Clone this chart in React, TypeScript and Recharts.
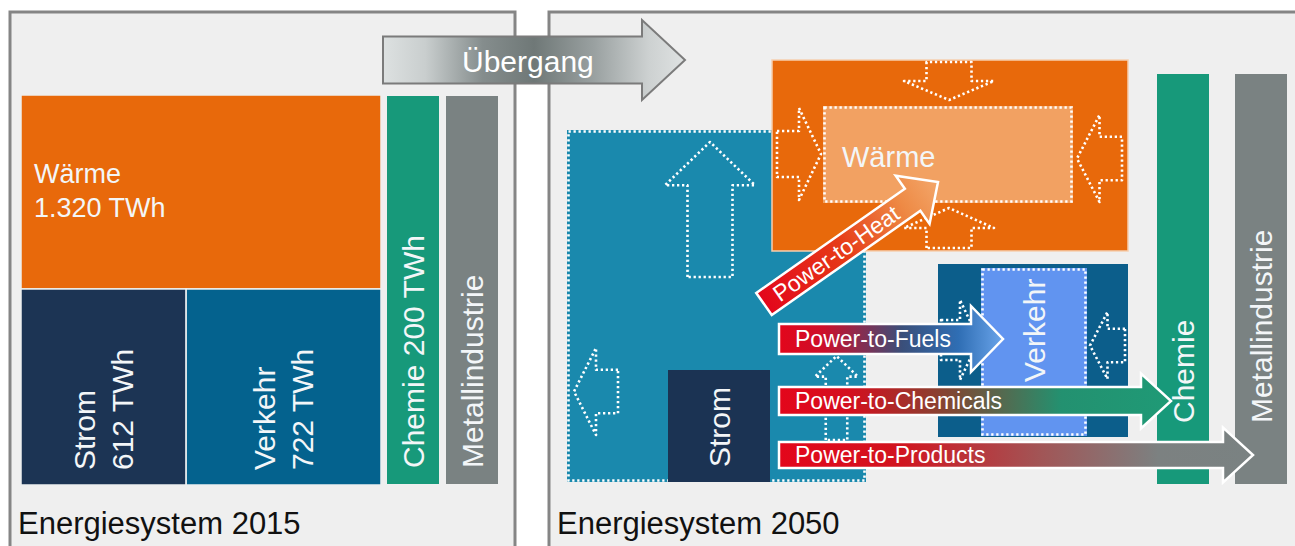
import React from "react";
import { ComposedChart, XAxis, YAxis, ReferenceArea, ReferenceLine } from "recharts";

const WIDTH = 1295;
const HEIGHT = 546;
const FONT = '"Liberation Sans", Arial, Helvetica, sans-serif';

// chart units: one unit = one pixel of the sketch grid (x right, y down)
const panels = [
	{ id: "p2015", title: "Energiesystem 2015", x: [10, 515], y: [12, 560] },
	{ id: "p2050", title: "Energiesystem 2050", x: [549, 1310], y: [12, 560] },
];

// Endenergie 2015 in TWh, laid out as a treemap inside this frame
const demand2015 = [
	{ name: "Wärme", twh: 1320 },
	{ name: "Strom", twh: 612 },
	{ name: "Verkehr", twh: 722 },
];
const treemapFrame2015 = { x: [21, 381], y: [95, 485] };

const columns2015 = [
	{ name: "Chemie", label: ["Chemie 200 TWh"], x: [387, 439], y: [96, 484] },
	{ name: "Metallindustrie", label: ["Metallindustrie"], x: [446, 498], y: [96, 484] },
];

const sectors2050 = [
	{ name: "Stromsystem", label: [] as string[], x: [567, 866], y: [130, 482] },
	{ name: "Strom", label: ["Strom"], x: [668, 770], y: [370, 482] },
	{ name: "Wärmesektor", label: [] as string[], x: [772, 1128], y: [60, 251] },
	{ name: "Wärme", label: ["Wärme"], x: [823, 1073], y: [106, 203] },
	{ name: "Verkehrssektor", label: [] as string[], x: [938, 1128], y: [264, 437] },
	{ name: "Verkehr", label: ["Verkehr"], x: [981, 1087], y: [268, 436] },
	{ name: "Chemie", label: ["Chemie"], x: [1157, 1209], y: [74, 484] },
	{ name: "Metallindustrie", label: ["Metallindustrie"], x: [1235, 1287], y: [74, 484] },
];

// dotted "flow" arrows pointing into the sectors
const inflows2050 = [
	{ into: "Strom", dir: "up", x: [665, 755], y: [142, 277] },
	{ into: "Strom", dir: "left", x: [574, 618], y: [348, 435] },
	{ into: "Strom", dir: "up", x: [815, 858], y: [356, 440] },
	{ into: "Wärme", dir: "right", x: [777, 821], y: [108, 200] },
	{ into: "Wärme", dir: "down", x: [904, 994], y: [62, 100] },
	{ into: "Wärme", dir: "left", x: [1077, 1122], y: [115, 202] },
	{ into: "Wärme", dir: "up", x: [904, 994], y: [208, 248] },
	{ into: "Verkehr", dir: "right", x: [941, 979], y: [300, 380] },
	{ into: "Verkehr", dir: "left", x: [1090, 1125], y: [312, 379] },
];

const powerRoutes = [
	{ label: "Power-to-Heat", from: { x: 764, y: 304 }, to: { x: 938, y: 182 } },
	{ label: "Power-to-Fuels", from: { x: 779, y: 339 }, to: { x: 1003, y: 339 } },
	{ label: "Power-to-Chemicals", from: { x: 779, y: 401 }, to: { x: 1171, y: 401 } },
	{ label: "Power-to-Products", from: { x: 779, y: 455 }, to: { x: 1253, y: 455 } },
];

const transition = { label: "Übergang", from: { x: 383, y: 60 }, to: { x: 685, y: 60 } };

// ---------- styles ----------
const TEXT = "#f3f6f8";

type LabelStyle = {
	rotate?: boolean;
	size: number;
	gap?: number;
	dx?: number;
	dy?: number;
	bottom?: number;
};
type BlockStyle = {
	fill: string;
	stroke?: string;
	strokeWidth?: number;
	dotted?: boolean;
	label?: LabelStyle;
};

const style2015: Record<string, BlockStyle> = {
	Wärme: { fill: "#e8690b", stroke: "#eef0f0", strokeWidth: 1.5, label: { size: 27, gap: 34, dx: 13, dy: 88 } },
	Strom: { fill: "#1c3454", stroke: "#eef0f0", strokeWidth: 1.5, label: { rotate: true, size: 30, gap: 38, bottom: 15 } },
	Verkehr: { fill: "#04628e", stroke: "#eef0f0", strokeWidth: 1.5, label: { rotate: true, size: 30, gap: 38, bottom: 15 } },
	Chemie: { fill: "#17997a", label: { rotate: true, size: 30, bottom: 16 } },
	Metallindustrie: { fill: "#7a8282", label: { rotate: true, size: 30, bottom: 16 } },
};

const style2050: Record<string, BlockStyle> = {
	Stromsystem: { fill: "#1a89ad", dotted: true },
	Strom: { fill: "#1b3353", label: { rotate: true, size: 30, bottom: 15 } },
	Wärmesektor: { fill: "#e8690b", stroke: "#f6cfb0", strokeWidth: 1.5 },
	Wärme: { fill: "#f2a162", dotted: true, label: { size: 29, dx: 19, dy: 61 } },
	Verkehrssektor: { fill: "#0c5e8b" },
	Verkehr: { fill: "#6194f0", dotted: true, label: { rotate: true, size: 30, bottom: 54 } },
	Chemie: { fill: "#17997a", label: { rotate: true, size: 30, bottom: 61 } },
	Metallindustrie: { fill: "#7a8282", label: { rotate: true, size: 30, bottom: 61 } },
};

type Stops = [string, string][];
type RouteStyle = {
	body: number;
	head: number;
	headLen: number;
	stops: Stops;
	stroke: string;
	strokeWidth: number;
	fontSize: number;
	textX: number;
	textY: number;
};

const RED = "#e3061b";
const routeStyles: Record<string, RouteStyle> = {
	"Power-to-Heat": {
		body: 27, head: 59, headLen: 31, stroke: "#fff", strokeWidth: 2.5, fontSize: 23, textX: 14, textY: 8,
		stops: [["0", RED], ["0.45", "#e63a17"], ["0.8", "#ee8a45"], ["1", "#f3a66a"]],
	},
	"Power-to-Fuels": {
		body: 30, head: 66, headLen: 32, stroke: "#fff", strokeWidth: 2.5, fontSize: 23, textX: 16, textY: 8,
		stops: [["0", RED], ["0.2", "#cc0f2a"], ["0.55", "#3a4f7a"], ["0.8", "#2f6eb4"], ["1", "#6aa4ea"]],
	},
	"Power-to-Chemicals": {
		body: 28, head: 55, headLen: 30, stroke: "#fff", strokeWidth: 2.5, fontSize: 23, textX: 16, textY: 8,
		stops: [["0", RED], ["0.18", "#d40f1e"], ["0.45", "#7c4a35"], ["0.72", "#239170"], ["1", "#1f9a76"]],
	},
	"Power-to-Products": {
		body: 26, head: 55, headLen: 30, stroke: "#fff", strokeWidth: 2.5, fontSize: 23, textX: 16, textY: 8,
		stops: [["0", RED], ["0.25", "#d2141f"], ["0.55", "#a25556"], ["0.8", "#7c8181"], ["1", "#7a8282"]],
	},
	Übergang: {
		body: 47, head: 80, headLen: 43, stroke: "#7b7b7b", strokeWidth: 2, fontSize: 30, textX: 79, textY: 12,
		stops: [["0", "#dde1e1"], ["0.14", "#c9cece"], ["0.33", "#858d8d"], ["0.5", "#6f7877"], ["0.7", "#9aa1a1"], ["0.88", "#cdd1d1"], ["1", "#dfe2e2"]],
	},
};

const DOTS = { stroke: "#ffffff", strokeWidth: 2.6, strokeDasharray: "2.3 2.7" };

// ---------- helpers ----------
const fmtTwh = (v: number) => `${String(v).replace(/\B(?=(\d{3})+(?!\d))/g, ".")} TWh`;

function layout2015() {
	const [heat, power, transport] = demand2015;
	const total = heat.twh + power.twh + transport.twh;
	const [x0, x1] = treemapFrame2015.x;
	const [y0, y1] = treemapFrame2015.y;
	const yHeat = y0 + ((y1 - y0) * heat.twh) / total;
	const xSplit = x0 + ((x1 - x0) * power.twh) / (power.twh + transport.twh);
	return [
		{ name: heat.name, label: [heat.name, fmtTwh(heat.twh)], x: [x0, x1], y: [y0, yHeat] },
		{ name: power.name, label: [power.name, fmtTwh(power.twh)], x: [x0, xSplit], y: [yHeat, y1] },
		{ name: transport.name, label: [transport.name, fmtTwh(transport.twh)], x: [xSplit, x1], y: [yHeat, y1] },
	];
}

const blockShape = (lines: string[], st: BlockStyle) => (p: any) => {
	const { x, y, width: w, height: h } = p;
	if (![x, y, w, h].every(Number.isFinite)) return <g />;
	const lb = st.label;
	let text: React.ReactNode = null;
	if (lb && lines.length) {
		const gap = lb.gap ?? lb.size * 1.25;
		if (lb.rotate) {
			const cap = lb.size * 0.72;
			const first = x + w / 2 - ((lines.length - 1) * gap - cap) / 2;
			const sy = y + h - (lb.bottom ?? 15);
			text = lines.map((t, i) => (
				<text
					key={t}
					transform={`translate(${first + i * gap},${sy}) rotate(-90)`}
					fill={TEXT}
					fontSize={lb.size}
					fontFamily={FONT}
				>
					{t}
				</text>
			));
		} else {
			text = lines.map((t, i) => (
				<text key={t} x={x + (lb.dx ?? 10)} y={y + (lb.dy ?? 30) + i * gap} fill={TEXT} fontSize={lb.size} fontFamily={FONT}>
					{t}
				</text>
			));
		}
	}
	return (
		<g>
			<rect x={x} y={y} width={w} height={h} fill={st.fill} stroke={st.stroke ?? "none"} strokeWidth={st.strokeWidth ?? 0} />
			{st.dotted && <rect x={x + 1.5} y={y + 1.5} width={w - 3} height={h - 3} fill="none" {...DOTS} />}
			{text}
		</g>
	);
};

const dottedArrowShape = (dir: string) => (p: any) => {
	const { x, y, width: w, height: h } = p;
	if (![x, y, w, h].every(Number.isFinite)) return <g />;
	const vertical = dir === "up" || dir === "down";
	const len = vertical ? h : w;
	const thick = vertical ? w : h;
	const hl = Math.min(len * 0.5, thick * 0.48);
	const bt = thick * 0.5;
	const local = [
		[0, -bt / 2], [len - hl, -bt / 2], [len - hl, -thick / 2], [len, 0],
		[len - hl, thick / 2], [len - hl, bt / 2], [0, bt / 2],
	];
	const pts = local
		.map(([a, c]) => {
			if (dir === "right") return [x + a, y + h / 2 + c];
			if (dir === "left") return [x + w - a, y + h / 2 + c];
			if (dir === "down") return [x + w / 2 + c, y + a];
			return [x + w / 2 + c, y + h - a];
		})
		.map((q) => q.join(","))
		.join(" ");
	return <polygon points={pts} fill="none" strokeLinejoin="round" {...DOTS} />;
};

const arrowShape = (label: string, st: RouteStyle, id: string) => (p: any) => {
	const { x1, y1, x2, y2 } = p;
	if (![x1, y1, x2, y2].every(Number.isFinite)) return <g />;
	const len = Math.hypot(x2 - x1, y2 - y1);
	const ang = (Math.atan2(y2 - y1, x2 - x1) * 180) / Math.PI;
	const b = st.body / 2;
	const hh = st.head / 2;
	const L = len - st.headLen;
	const pts = [[0, -b], [L, -b], [L, -hh], [len, 0], [L, hh], [L, b], [0, b]].map((q) => q.join(",")).join(" ");
	return (
		<g transform={`translate(${x1},${y1}) rotate(${ang})`}>
			<defs>
				<linearGradient id={id} x1="0" y1="0" x2="1" y2="0">
					{st.stops.map(([o, c]) => (
						<stop key={o} offset={o} stopColor={c} />
					))}
				</linearGradient>
			</defs>
			<polygon points={pts} fill={`url(#${id})`} stroke={st.stroke} strokeWidth={st.strokeWidth} strokeLinejoin="miter" />
			<text x={st.textX} y={st.textY} fill="#ffffff" fontSize={st.fontSize} fontFamily={FONT}>
				{label}
			</text>
		</g>
	);
};

const panelShape = (title: string) => (p: any) => {
	const { x, y, width: w, height: h } = p;
	if (![x, y, w, h].every(Number.isFinite)) return <g />;
	return (
		<g>
			<rect x={x} y={y} width={w} height={h} fill="#efefef" stroke="#858585" strokeWidth={3} />
			<text x={x + 8} y={y + 522} fill="#111" fontSize={31} fontFamily={FONT}>
				{title}
			</text>
		</g>
	);
};

export default function App() {
	const cells2015 = [...layout2015(), ...columns2015];
	return (
		<div style={{ position: "absolute", left: 0, top: 0, width: WIDTH, height: HEIGHT, background: "#fff" }}>
			<ComposedChart width={WIDTH} height={HEIGHT} margin={{ top: 0, right: 0, bottom: 0, left: 0 }}>
				<XAxis type="number" dataKey="x" domain={[0, WIDTH]} hide allowDataOverflow />
				<YAxis type="number" dataKey="y" domain={[0, HEIGHT]} reversed hide allowDataOverflow />

				{panels.map((pn) => (
					<ReferenceArea
						key={pn.id}
						x1={pn.x[0]}
						x2={pn.x[1]}
						y1={pn.y[0]}
						y2={pn.y[1]}
						ifOverflow="visible"
						shape={panelShape(pn.title)}
					/>
				))}

				{cells2015.map((c) => (
					<ReferenceArea
						key={`15-${c.name}`}
						x1={c.x[0]}
						x2={c.x[1]}
						y1={c.y[0]}
						y2={c.y[1]}
						ifOverflow="visible"
						shape={blockShape(c.label, style2015[c.name])}
					/>
				))}

				{sectors2050.map((s) => (
					<ReferenceArea
						key={`50-${s.name}`}
						x1={s.x[0]}
						x2={s.x[1]}
						y1={s.y[0]}
						y2={s.y[1]}
						ifOverflow="visible"
						shape={blockShape(s.label, style2050[s.name])}
					/>
				))}

				{inflows2050.map((f, i) => (
					<ReferenceArea
						key={`in-${i}`}
						x1={f.x[0]}
						x2={f.x[1]}
						y1={f.y[0]}
						y2={f.y[1]}
						ifOverflow="visible"
						shape={dottedArrowShape(f.dir)}
					/>
				))}

				{powerRoutes.map((r, i) => (
					<ReferenceLine
						key={r.label}
						segment={[r.from, r.to]}
						ifOverflow="visible"
						shape={arrowShape(r.label, routeStyles[r.label], `ptx-${i}`)}
					/>
				))}

				<ReferenceLine
					segment={[transition.from, transition.to]}
					ifOverflow="visible"
					shape={arrowShape(transition.label, routeStyles[transition.label], "transition-grad")}
				/>
			</ComposedChart>
		</div>
	);
}
